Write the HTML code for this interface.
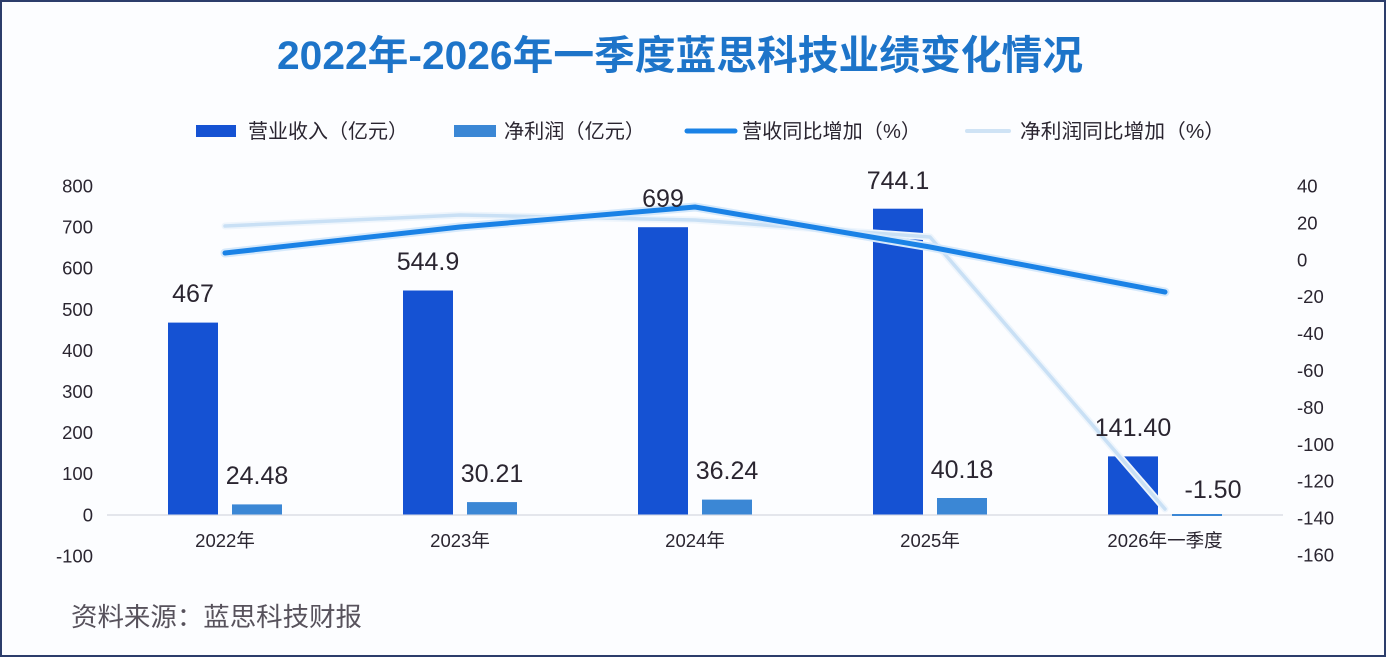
<!DOCTYPE html>
<html>
<head>
<meta charset="utf-8">
<style>
  html,body{margin:0;padding:0;background:#ffffff;}
  svg{display:block;}
  text{font-family:"Liberation Sans","Noto Sans CJK SC",sans-serif;}
</style>
</head>
<body>
<svg width="1390" height="660" viewBox="0 0 1390 660" xmlns="http://www.w3.org/2000/svg">
  <rect x="0" y="0" width="1390" height="660" fill="#ffffff"/>
  <rect x="1" y="1" width="1384" height="655" fill="#fcfdff" stroke="#2c3d6b" stroke-width="2"/>

  <!-- Title -->
  <text x="680" y="69" text-anchor="middle" font-size="40" font-weight="bold" fill="#1d74c9" textLength="806" lengthAdjust="spacingAndGlyphs">2022年-2026年一季度蓝思科技业绩变化情况</text>

  <!-- Legend -->
  <rect x="196" y="125" width="40" height="12" fill="#1552d3"/>
  <text x="248" y="138" font-size="20" fill="#2a2530" textLength="160" lengthAdjust="spacingAndGlyphs">营业收入（亿元）</text>
  <rect x="454" y="125" width="42" height="12" fill="#3b87d5"/>
  <text x="504" y="138" font-size="20" fill="#2a2530" textLength="141" lengthAdjust="spacingAndGlyphs">净利润（亿元）</text>
  <line x1="687" y1="131" x2="735" y2="131" stroke="#1a82e6" stroke-width="5" stroke-linecap="round"/>
  <text x="742" y="138" font-size="20" fill="#2a2530" textLength="179" lengthAdjust="spacingAndGlyphs">营收同比增加（%）</text>
  <line x1="967" y1="131" x2="1009" y2="131" stroke="#cfe3f5" stroke-width="4" stroke-linecap="round"/>
  <text x="1020" y="138" font-size="20" fill="#2a2530" textLength="205" lengthAdjust="spacingAndGlyphs">净利润同比增加（%）</text>

  <!-- Left axis labels -->
  <g font-size="18.5" fill="#2a2530" text-anchor="end">
    <text x="93" y="192.5">800</text>
    <text x="93" y="233.6">700</text>
    <text x="93" y="274.7">600</text>
    <text x="93" y="315.8">500</text>
    <text x="93" y="356.9">400</text>
    <text x="93" y="398">300</text>
    <text x="93" y="439.1">200</text>
    <text x="93" y="480.2">100</text>
    <text x="93" y="521.3">0</text>
    <text x="93" y="562.4">-100</text>
  </g>

  <!-- Right axis labels -->
  <g font-size="18.5" fill="#2a2530" text-anchor="start">
    <text x="1297" y="192.5">40</text>
    <text x="1297" y="229.4">20</text>
    <text x="1297" y="266.3">0</text>
    <text x="1297" y="303.2">-20</text>
    <text x="1297" y="340.1">-40</text>
    <text x="1297" y="377">-60</text>
    <text x="1297" y="413.9">-80</text>
    <text x="1297" y="450.8">-100</text>
    <text x="1297" y="487.7">-120</text>
    <text x="1297" y="524.6">-140</text>
    <text x="1297" y="561.5">-160</text>
  </g>

  <!-- Zero line -->
  <line x1="107" y1="515" x2="1283" y2="515" stroke="#dcdee5" stroke-width="1.5"/>

  <!-- Revenue bars -->
  <g fill="#1552d3">
    <rect x="168" y="322.6" width="50" height="191.9"/>
    <rect x="403" y="290.5" width="50" height="224"/>
    <rect x="638" y="227.2" width="50" height="287.3"/>
    <rect x="873" y="208.7" width="50" height="305.8"/>
    <rect x="1108" y="456.4" width="50" height="58.1"/>
  </g>
  <!-- Net profit bars -->
  <g fill="#3b87d5">
    <rect x="232" y="504.4" width="50" height="10.1"/>
    <rect x="467" y="502.1" width="50" height="12.4"/>
    <rect x="702" y="499.6" width="50" height="14.9"/>
    <rect x="937" y="498" width="50" height="16.5"/>
    <rect x="1172" y="514" width="50" height="2"/>
  </g>

  <!-- Net profit YoY line -->
  <polyline points="225,226 460,215 695,220 930,237 1165,509" fill="none" stroke="#eef5fc" stroke-width="7" stroke-linejoin="round" stroke-linecap="round"/>
  <polyline points="225,226 460,215 695,220 930,237 1165,509" fill="none" stroke="#c9e0f5" stroke-width="3.5" stroke-linejoin="round" stroke-linecap="round"/>

  <!-- Revenue YoY line -->
  <polyline points="225,253 460,227 695,207 930,247 1165,292" fill="none" stroke="#d6e9fb" stroke-width="9" stroke-linejoin="round" stroke-linecap="round"/>
  <polyline points="225,253 460,227 695,207 930,247 1165,292" fill="none" stroke="#1a82e6" stroke-width="5" stroke-linejoin="round" stroke-linecap="round"/>

  <!-- Value labels -->
  <g font-size="25" fill="#2a2530" text-anchor="middle">
    <text x="193" y="302">467</text>
    <text x="428" y="270">544.9</text>
    <text x="663" y="207">699</text>
    <text x="898" y="189">744.1</text>
    <text x="1133" y="436">141.40</text>
    <text x="257" y="484">24.48</text>
    <text x="492" y="482">30.21</text>
    <text x="727" y="479">36.24</text>
    <text x="962" y="478">40.18</text>
    <text x="1213" y="498">-1.50</text>
  </g>

  <!-- Category labels -->
  <g font-size="18.5" fill="#2a2530" text-anchor="middle">
    <text x="225" y="547">2022年</text>
    <text x="460" y="547">2023年</text>
    <text x="695" y="547">2024年</text>
    <text x="930" y="547">2025年</text>
    <text x="1165" y="547">2026年一季度</text>
  </g>

  <!-- Source -->
  <text x="71" y="626" font-size="26" fill="#57525c" textLength="291" lengthAdjust="spacingAndGlyphs">资料来源：蓝思科技财报</text>
</svg>
</body>
</html>
